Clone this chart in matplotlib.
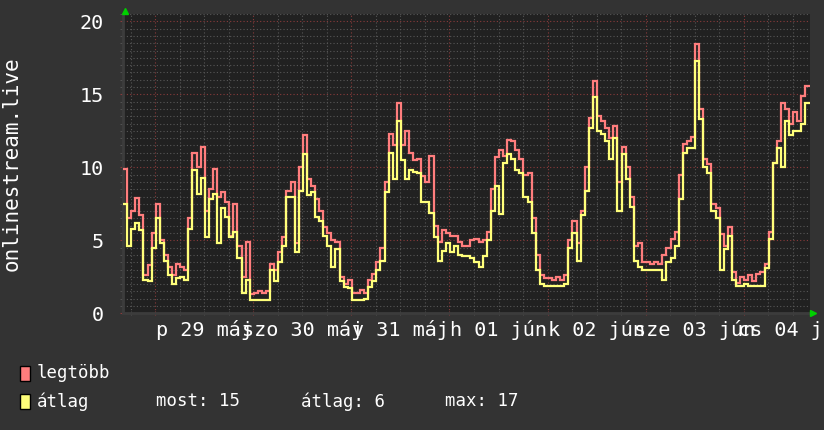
import numpy as np
import matplotlib
matplotlib.use("Agg")
import matplotlib.pyplot as plt
from matplotlib.ticker import MultipleLocator, FuncFormatter, NullFormatter
from matplotlib.patches import Rectangle
from matplotlib.lines import Line2D

# ---- data (hourly samples, starting 2020-05-28 ~16:06) ----
start_hour = -7.9  # hours relative to 2020-05-29 00:00
max_vals = [9.9, 6.5, 7.0, 7.9, 6.7, 2.6, 3.3, 5.5, 7.5, 5.0,
            4.0, 3.2, 2.6, 3.4, 3.2, 3.0, 6.5, 11.0, 10.0, 11.4,
            7.0, 8.5, 9.9, 8.0, 8.3, 7.6, 5.3, 7.5, 4.6, 2.5,
            4.9, 1.3, 1.4, 1.5, 1.4, 1.5, 3.4, 3.0, 4.2, 5.2,
            8.4, 9.0, 4.8, 10.0, 12.2, 9.2, 8.7, 7.8, 7.0, 5.9,
            5.5, 5.0, 4.9, 2.5, 2.0, 2.3, 1.4, 1.4, 1.6, 1.4,
            2.3, 2.7, 3.5, 4.5, 9.0, 12.3, 11.5, 14.4, 11.5, 12.5,
            11.0, 10.5, 10.6, 9.4, 9.0, 10.8, 6.0, 4.9, 5.7, 5.5,
            5.3, 5.3, 4.9, 4.6, 4.6, 5.0, 5.1, 4.9, 5.0, 5.6,
            8.5, 10.7, 11.2, 10.8, 11.85, 11.8, 11.2, 10.6, 9.5, 9.6,
            6.5, 4.0, 2.6, 2.4, 2.4, 2.3, 2.5, 2.3, 2.6, 5.0,
            6.3, 4.8, 7.0, 10.0, 13.4, 15.9, 13.5, 13.2, 12.7, 12.0,
            12.8, 9.0, 11.4, 10.0, 8.0, 4.6, 4.8, 3.5, 3.5, 3.4,
            3.5, 3.4, 4.0, 4.5, 5.1, 5.6, 9.45, 11.6, 11.8, 12.1,
            18.45, 14.0, 10.6, 10.2, 7.5, 7.2, 5.4, 4.6, 5.9, 2.8,
            2.1, 2.5, 2.3, 2.6, 2.2, 2.7, 2.8, 3.4, 5.6, 10.3,
            11.8, 14.4, 14.0, 13.0, 13.8, 13.2, 14.9, 15.6]
avg_vals = [7.5, 4.6, 5.8, 6.2, 5.7, 2.3, 2.2, 4.5, 6.5, 4.8,
            3.6, 2.6, 2.0, 2.4, 2.5, 2.3, 5.8, 9.8, 8.2, 9.3,
            5.2, 7.8, 8.2, 4.8, 7.2, 6.6, 5.2, 5.6, 3.8, 1.4,
            2.3, 0.9, 0.9, 0.9, 0.9, 0.9, 3.0, 2.2, 3.5, 4.6,
            8.0, 8.0, 4.2, 8.4, 10.9, 8.1, 8.3, 6.6, 6.3, 5.3,
            4.6, 3.2, 4.4, 2.2, 1.8, 1.7, 0.9, 0.9, 0.9, 1.0,
            1.8, 2.2, 3.0, 3.6, 8.3, 11.0, 9.2, 13.2, 10.5, 9.2,
            9.8, 9.7, 9.6, 7.6, 7.6, 6.9, 5.2, 3.6, 4.3, 4.8,
            4.2, 4.6, 4.0, 3.9, 3.9, 3.8, 3.5, 3.2, 3.9, 5.0,
            7.0, 8.7, 6.8, 10.3, 10.9, 10.6, 9.8, 9.6, 8.0, 7.6,
            5.5, 3.0, 2.0, 1.9, 1.9, 1.9, 1.9, 1.9, 2.0, 4.5,
            5.5, 3.6, 6.7, 8.4, 12.7, 14.8, 12.5, 12.3, 11.8, 10.6,
            12.0, 7.0, 10.9, 9.2, 7.3, 3.6, 3.2, 3.0, 3.0, 3.0,
            3.0, 3.0, 2.3, 3.5, 3.8, 4.6, 7.8, 11.0, 11.3, 11.3,
            17.3, 13.3, 10.0, 9.6, 7.0, 6.5, 3.0, 4.4, 5.3, 2.3,
            1.9, 1.9, 2.0, 1.9, 1.9, 1.9, 1.9, 3.1, 5.1, 10.3,
            11.3, 10.0, 13.2, 12.2, 12.5, 12.5, 13.0, 14.4]
day_labels = ["p 29 máj", "szo 30 máj", "v 31 máj", "h 01 jún",
              "k 02 jún", "sze 03 jún", "cs 04 jún"]
y_ticks = [0, 5, 10, 15, 20]
series_names = ["legtöbb", "átlag"]
stats_labels = ["most: 15", "átlag: 6", "max: 17"]
y_label = "onlinestream.live"

# ---- style ----
W, H = 824, 430
BG = "#333333"
CANVAS = "#212121"
RED = "#ff7d7d"
YEL = "#ffff7a"
GRID_MINOR = "#575757"
GRID_MAJOR = "#8a3b3b"
MONO = "DejaVu Sans Mono"

fig = plt.figure(figsize=(W / 100, H / 100), dpi=100, facecolor=BG)
ax = fig.add_axes([123 / W, 1 - 313.3 / H, 686.5 / W, 299.3 / H], facecolor=CANVAS)

n = len(max_vals)
edges = start_hour + np.arange(n + 1)
ax.stairs(max_vals, edges, baseline=None, color=RED, linewidth=1.6, zorder=3)
ax.stairs(avg_vals, edges, baseline=None, color=YEL, linewidth=1.6, zorder=4)

ax.set_xlim(start_hour, start_hour + 168)
ax.set_ylim(0, 20.5)

# y axis
ax.set_yticks(y_ticks)
ax.set_yticklabels([str(v) for v in y_ticks])
ax.yaxis.set_minor_locator(MultipleLocator(0.5))

# x axis: midnights major, 6h minor, labels at noon
ax.xaxis.set_major_locator(MultipleLocator(24))
ax.xaxis.set_minor_locator(MultipleLocator(6))
ax.xaxis.set_major_formatter(NullFormatter())


def noon_label(x, pos):
    h = int(round(x))
    if h % 24 == 12:
        idx = h // 24
        if 0 <= idx < len(day_labels):
            return day_labels[idx]
    return ""


ax.xaxis.set_minor_formatter(FuncFormatter(noon_label))

dots = (0, (1, 2))
ax.grid(which="minor", color=GRID_MINOR, linestyle=dots, linewidth=0.8)
ax.grid(which="major", color=GRID_MAJOR, linestyle=dots, linewidth=0.8)
ax.set_axisbelow(True)

ax.tick_params(axis="y", which="major", length=2, color=GRID_MAJOR, pad=12,
               labelsize=14.5, labelcolor="white", labelfontfamily=MONO)
ax.tick_params(axis="y", which="minor", length=2, color=GRID_MINOR)
ax.tick_params(axis="x", which="major", length=3, color=GRID_MAJOR, direction="inout")
ax.tick_params(axis="x", which="minor", length=3, color=GRID_MINOR, direction="inout",
               pad=3, labelsize=14.5, labelcolor="white", labelfontfamily=MONO)

for s in ax.spines.values():
    s.set_visible(False)
ax.spines["left"].set_visible(True)
ax.spines["left"].set_color("#3c3c3c")
ax.spines["left"].set_linewidth(2)
ax.spines["bottom"].set_visible(True)
ax.spines["bottom"].set_color("#3c3c3c")
ax.spines["bottom"].set_linewidth(2)

# y label
fig.text(12 / W, 1 - 164 / H, y_label, rotation=90, ha="center", va="center",
         color="white", family=MONO, size=15)

# green arrows
fig.add_artist(Line2D([125 / W], [1 - 11 / H], marker="^", color="#00d000",
                      markersize=5, transform=fig.transFigure, linestyle="none"))
fig.add_artist(Line2D([813 / W], [1 - 313 / H], marker=">", color="#00d000",
                      markersize=5, transform=fig.transFigure, linestyle="none"))

# legend
for (yc, col, name) in [(373.5, RED, series_names[0]), (401.5, YEL, series_names[1])]:
    fig.patches.append(Rectangle((20 / W, 1 - (yc + 7.5) / H), 10 / W, 15 / H,
                                 transform=fig.transFigure, facecolor=col,
                                 edgecolor="black", linewidth=1))
    fig.text(36.5 / W, 1 - yc / H, name, ha="left", va="center", color="white",
             family=MONO, size=12.5)

for xpos, txt in zip([156, 301, 445], stats_labels):
    fig.text(xpos / W, 1 - 401.5 / H, txt, ha="left", va="center", color="white",
             family=MONO, size=12.5)

fig.savefig("out.png", dpi=100, facecolor=BG)
